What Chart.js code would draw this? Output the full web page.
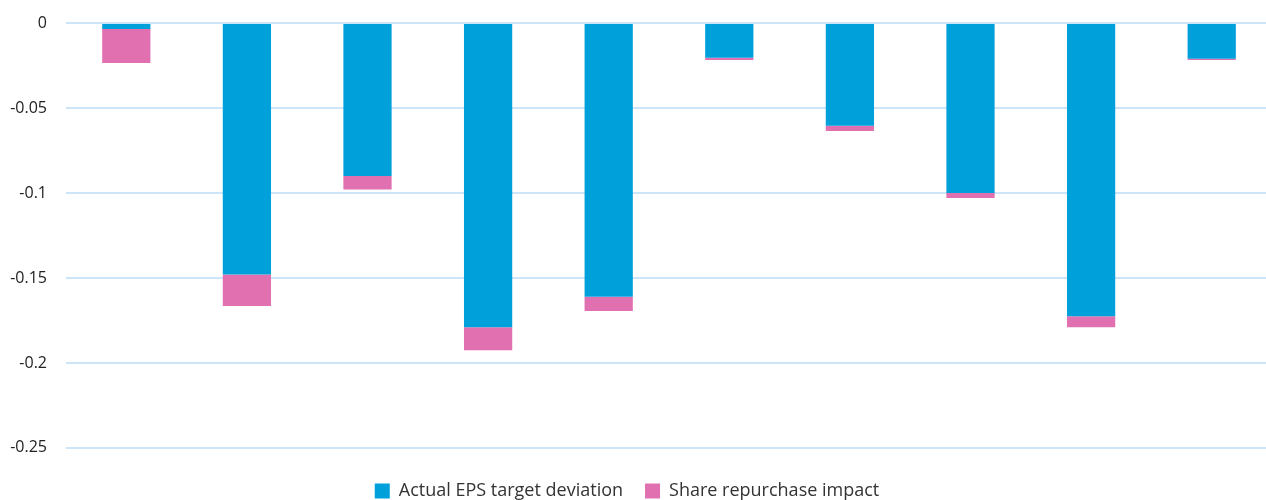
<!DOCTYPE html>
<html>
<head>
<meta charset="utf-8">
<script src="https://cdn.jsdelivr.net/npm/chart.js@4.4.1/dist/chart.umd.min.js"></script>
<style>
    body { margin: 0; background: #fff; overflow: hidden; }
    /* a little wider than the window: the last category runs past the right edge */
    #wrap { width: 1272px; height: 500px; }
</style>
</head>
<body>
<div id="wrap"><canvas id="epsChart"></canvas></div>
<script>
// 10 unlabeled categories
const categories = ['', '', '', '', '', '', '', '', '', ''];
const epsDeviation = [-0.0035, -0.148, -0.09, -0.179, -0.161, -0.0205, -0.0605, -0.1, -0.1725, -0.021];
const repurchaseImpact = [-0.02, -0.0185, -0.008, -0.0135, -0.0085, -0.0012, -0.003, -0.003, -0.0065, -0.0008];
const yTicks = [0, -0.05, -0.1, -0.15, -0.2, -0.25];

const ctx = document.getElementById('epsChart').getContext('2d');
new Chart(ctx, {
    type: 'bar',
    data: {
        labels: categories,
        datasets: [{
            label: 'Actual EPS target deviation',
            data: epsDeviation,
            backgroundColor: '#00a0da'
        }, {
            label: 'Share repurchase impact',
            data: repurchaseImpact,
            backgroundColor: '#e170b1'
        }]
    },
    options: {
        responsive: true,
        maintainAspectRatio: false,
        animation: false,
        datasets: {
            bar: { categoryPercentage: 1, barPercentage: 0.4 }
        },
        // negative padding lets the plot/legend sit like the original
        layout: { padding: { top: 23, right: 0, left: -18, bottom: -10 } },
        scales: {
            x: {
                stacked: true,
                display: false
            },
            y: {
                stacked: true,
                min: -0.2571,
                max: 0,
                afterFit: function(scale) {
                    scale.width = 84;
                    scale.paddingTop = 0;
                    scale.paddingBottom = 0;
                },
                afterBuildTicks: function(scale) {
                    scale.ticks = yTicks.map(v => ({ value: v }));
                },
                border: { display: false },
                grid: { color: '#cce5f8', lineWidth: 2, drawTicks: false },
                ticks: {
                    padding: 19,
                    color: '#222',
                    font: { family: 'Open Sans', size: 16 },
                    callback: function(value) { return String(+value.toFixed(2)); }
                }
            }
        },
        plugins: {
            legend: {
                position: 'bottom',
                labels: {
                    boxWidth: 15,
                    boxHeight: 15,
                    padding: 22,
                    color: '#333',
                    font: { family: 'Open Sans', size: 18 }
                }
            },
            tooltip: { enabled: false }
        }
    }
});
</script>
</body>
</html>
